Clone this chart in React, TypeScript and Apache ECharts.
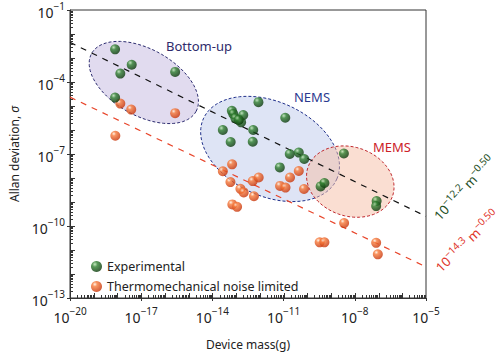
import React, { useEffect, useRef } from 'react';
import * as echarts from 'echarts';

const X_MIN = 1e-20;
const X_MAX = 1e-5;
const Y_MIN = 1e-13;
const Y_MAX = 1e-1;

// log10 of device mass (g) and Allan deviation
const expLogMass = [-18.1, -17.4, -17.88, -15.57, -18.1, -12.06, -13.18, -13.12, -12.7, -13.03, -12.79, -12.89, -10.93, -13.56, -12.28, -13.23, -12.3, -10.74, -10.36, -10.13, -11.16, -8.46, -9.44, -9.28, -7.08, -7.1];
const expLogSigma = [-2.64, -3.28, -3.65, -3.58, -4.65, -4.84, -5.2, -5.33, -5.38, -5.51, -5.68, -5.58, -5.49, -6.0, -6.0, -6.5, -6.49, -7.0, -6.94, -7.21, -7.56, -6.98, -8.35, -8.21, -8.96, -9.17];

const thermoLogMass = [-17.88, -17.42, -15.57, -18.09, -13.17, -13.56, -13.24, -12.3, -12.05, -12.82, -12.68, -12.25, -13.16, -12.96, -10.36, -10.73, -11.15, -10.92, -10.14, -8.45, -9.48, -9.28, -7.1, -7.03];
const thermoLogSigma = [-4.9, -5.15, -5.3, -6.24, -7.43, -7.72, -8.17, -8.13, -7.98, -8.45, -8.6, -8.76, -9.1, -9.2, -7.71, -7.98, -8.33, -8.4, -8.46, -9.88, -10.68, -10.68, -10.7, -11.18];

const fitExpLogMass = [-20, -5];
const fitExpLogSigma = [-2.35, -9.6];
const fitThermoLogMass = [-20, -5];
const fitThermoLogSigma = [-4.63, -11.7];

const regionNames = ['Bottom-up', 'NEMS', 'MEMS'];
const regionCenterLogMass = [-16.89, -11.57, -8.19];
const regionCenterLogSigma = [-4.02, -6.79, -8.15];
const regionSemiMajor = [2.51, 3.08, 1.88];
const regionSemiMinor = [1.39, 1.97, 1.44];
const regionTiltDeg = [-28.6, -24, -17.8];
const regionFill = ['rgba(205,195,228,0.6)', 'rgba(200,210,238,0.6)', 'rgba(245,190,165,0.5)'];
const regionStroke = ['#2a2a6e', '#1f2f8a', '#c0272d'];

const xTickLabels = [-20, -17, -14, -11, -8, -5];
const yTickLabels = [-13, -10, -7, -4, -1];

const FONT = 'Noto Sans';

const sup = (e: number) => `{b|10}{s|−${Math.abs(e)}}`;

export default function App() {
  const ref = useRef<HTMLDivElement>(null);
  useEffect(() => {
    if (!ref.current) return;
    const chart = echarts.init(ref.current, null, { renderer: 'svg' });

    const greenBall = new echarts.graphic.RadialGradient(0.35, 0.3, 0.7, [
      { offset: 0, color: '#b9e3b0' },
      { offset: 0.35, color: '#2f7f2f' },
      { offset: 1, color: '#0c3a0c' },
    ]);
    const orangeBall = new echarts.graphic.RadialGradient(0.35, 0.3, 0.7, [
      { offset: 0, color: '#fff1e2' },
      { offset: 0.3, color: '#f77a3a' },
      { offset: 1, color: '#c8360b' },
    ]);

    // minor tick positions (axis decoration, log-spaced 1..9 per decade)
    const xTickVals: number[] = [];
    for (let e = -20; e < -5; e++) for (let m = 1; m <= 9; m++) xTickVals.push(m * Math.pow(10, e));
    const yTickVals: number[] = [];
    for (let e = -13; e < -1; e++) for (let m = 1; m <= 9; m++) yTickVals.push(m * Math.pow(10, e));

    const isDecade = (v: number) => Math.abs(Math.log10(v) - Math.round(Math.log10(v))) < 1e-6;

    const richAxis = {
      b: { fontSize: 14, fontFamily: FONT, color: '#222', verticalAlign: 'bottom', lineHeight: 18 },
      s: { fontSize: 10, fontFamily: FONT, color: '#222', verticalAlign: 'top', lineHeight: 18, padding: [0, 0, 6, 0] },
    };

    const option: any = {
      animation: false,
      backgroundColor: '#fff',
      grid: { left: 68, right: 74, top: 10, bottom: 58, show: true, borderColor: '#333', borderWidth: 1, backgroundColor: 'transparent' },
      legend: {
        orient: 'vertical',
        left: 86,
        top: 255,
        itemWidth: 11,
        itemHeight: 11,
        itemGap: 7,
        icon: 'circle',
        textStyle: { fontSize: 12.5, fontFamily: FONT, color: '#222' },
        data: ['Experimental', 'Thermomechanical noise limited'],
      },
      xAxis: {
        type: 'log',
        logBase: 10,
        min: X_MIN,
        max: X_MAX,
        interval: 3,
        name: 'Device mass(g)',
        nameLocation: 'middle',
        nameGap: 40,
        nameTextStyle: { fontSize: 12, fontFamily: FONT, color: '#222' },
        axisLine: { show: true, lineStyle: { color: '#333', width: 1 } },
        axisTick: { show: true, inside: false, length: 3, lineStyle: { color: '#333', width: 1 } },
        splitLine: { show: false },
        axisLabel: {
          margin: 8,
          formatter: (v: number) => {
            const e = Math.round(Math.log10(v));
            return xTickLabels.includes(e) ? sup(e) : '';
          },
          rich: richAxis,
        },
      },
      yAxis: {
        type: 'log',
        logBase: 10,
        min: Y_MIN,
        max: Y_MAX,
        interval: 3,
        name: '{n|Allan deviation, }{i|σ}',
        nameLocation: 'middle',
        nameGap: 50,
        nameRotate: 90,
        nameTextStyle: {
          rich: {
            n: { fontSize: 12, fontFamily: FONT, color: '#222' },
            i: { fontSize: 12, fontFamily: FONT, color: '#222', fontStyle: 'italic' },
          },
        },
        axisLine: { show: true, lineStyle: { color: '#333', width: 1 } },
        axisTick: { show: true, inside: false, length: 3, lineStyle: { color: '#333', width: 1 } },
        splitLine: { show: false },
        axisLabel: {
          margin: 5,
          formatter: (v: number) => {
            const e = Math.round(Math.log10(v));
            return yTickLabels.includes(e) ? sup(e) : '';
          },
          rich: richAxis,
        },
      },
      graphic: [
        { type: 'text', x: 199, y: 46, style: { text: 'Bottom-up', fontSize: 13, fontFamily: FONT, fill: '#2e2a6b', align: 'center', verticalAlign: 'middle' } },
        { type: 'text', x: 312, y: 97, style: { text: 'NEMS', fontSize: 13, fontFamily: FONT, fill: '#2b3a8f', align: 'center', verticalAlign: 'middle' } },
        { type: 'text', x: 392, y: 147, style: { text: 'MEMS', fontSize: 13, fontFamily: FONT, fill: '#cc2229', align: 'center', verticalAlign: 'middle' } },
        {
          type: 'text', x: 463, y: 187, rotation: (47 * Math.PI) / 180,
          style: {
            text: '{b|10}{s|−12.2}{b| m}{s|−0.50}', align: 'center', verticalAlign: 'middle', fill: '#1f4f1f',
            rich: {
              b: { fontSize: 13, fontFamily: FONT, fill: '#1f4f1f', verticalAlign: 'bottom', lineHeight: 16 },
              s: { fontSize: 10, fontFamily: FONT, fill: '#1f4f1f', verticalAlign: 'top', lineHeight: 16, padding: [0, 0, 5, 0] },
            },
          },
        },
        {
          type: 'text', x: 466, y: 240, rotation: (44 * Math.PI) / 180,
          style: {
            text: '{b|10}{s|−14.3}{b| m}{s|−0.50}', align: 'center', verticalAlign: 'middle', fill: '#e0352b',
            rich: {
              b: { fontSize: 13, fontFamily: FONT, fill: '#e0352b', verticalAlign: 'bottom', lineHeight: 16 },
              s: { fontSize: 10, fontFamily: FONT, fill: '#e0352b', verticalAlign: 'top', lineHeight: 16, padding: [0, 0, 5, 0] },
            },
          },
        },
      ],
      series: [
        {
          type: 'custom',
          name: 'regions',
          z: 1,
          silent: true,
          data: regionNames.map((_, i) => [Math.pow(10, regionCenterLogMass[i]), Math.pow(10, regionCenterLogSigma[i])]),
          renderItem: (params: any, api: any) => {
            const i = params.dataIndex;
            const cx = regionCenterLogMass[i];
            const cy = regionCenterLogSigma[i];
            const a = regionSemiMajor[i];
            const b = regionSemiMinor[i];
            const th = (regionTiltDeg[i] * Math.PI) / 180;
            const pts: number[][] = [];
            for (let k = 0; k <= 90; k++) {
              const t = (k / 90) * 2 * Math.PI;
              const ex = cx + a * Math.cos(th) * Math.cos(t) - b * Math.sin(th) * Math.sin(t);
              const ey = cy + a * Math.sin(th) * Math.cos(t) + b * Math.cos(th) * Math.sin(t);
              pts.push(api.coord([Math.pow(10, ex), Math.pow(10, ey)]));
            }
            return {
              type: 'polygon',
              shape: { points: pts },
              style: { fill: regionFill[i], stroke: regionStroke[i], lineWidth: 1, lineDash: [3, 2] },
            };
          },
        },
        {
          type: 'custom',
          name: 'ticks',
          z: 6,
          silent: true,
          data: [[1e-12, 1e-7]],
          renderItem: (params: any, api: any) => {
            const children: any[] = [];
            xTickVals.forEach((v) => {
              const p = api.coord([v, 1e-12]);
              const base = api.coord([1e-12, Y_MIN]);
              const len = isDecade(v) ? 5 : 3;
              children.push({ type: 'rect', shape: { x: Math.round(p[0]), y: Math.round(base[1]) - len, width: 1, height: len }, style: { fill: '#333' } });
            });
            yTickVals.forEach((v) => {
              const p = api.coord([1e-12, v]);
              const base = api.coord([X_MIN, 1e-7]);
              const len = isDecade(v) ? 5 : 3;
              children.push({ type: 'rect', shape: { x: Math.round(base[0]), y: Math.round(p[1]), width: len, height: 1 }, style: { fill: '#333' } });
            });
            return { type: 'group', children };
          },
        },
        {
          type: 'line',
          name: 'fitExp',
          z: 3,
          silent: true,
          symbol: 'none',
          data: fitExpLogMass.map((m, i) => [Math.pow(10, m), Math.pow(10, fitExpLogSigma[i])]),
          lineStyle: { color: '#111', width: 1.2, type: [6, 6] },
        },
        {
          type: 'line',
          name: 'fitThermo',
          z: 3,
          silent: true,
          symbol: 'none',
          data: fitThermoLogMass.map((m, i) => [Math.pow(10, m), Math.pow(10, fitThermoLogSigma[i])]),
          lineStyle: { color: '#e8452a', width: 1.2, type: [6, 6] },
        },
        {
          type: 'scatter',
          name: 'Thermomechanical noise limited',
          z: 4,
          symbolSize: 10,
          itemStyle: { color: orangeBall },
          data: thermoLogMass.map((m, i) => [Math.pow(10, m), Math.pow(10, thermoLogSigma[i])]),
        },
        {
          type: 'scatter',
          name: 'Experimental',
          z: 5,
          symbolSize: 10,
          itemStyle: { color: greenBall },
          data: expLogMass.map((m, i) => [Math.pow(10, m), Math.pow(10, expLogSigma[i])]),
        },
      ],
    };
    chart.setOption(option);
    return () => chart.dispose();
  }, []);
  return <div ref={ref} style={{ position: 'fixed', left: 0, top: 0, width: 500, height: 356 }} />;
}
